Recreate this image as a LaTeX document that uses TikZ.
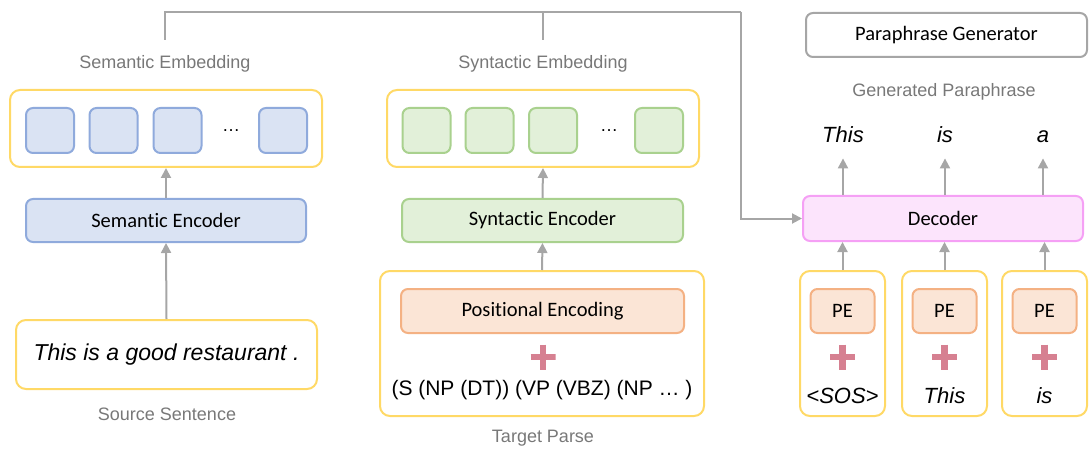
\documentclass[tikz,border=0pt]{standalone}
\usepackage{fontspec}
\setmainfont{Liberation Sans}
\newfontfamily\carl[Ligatures=NoCommon]{Carlito}
\usetikzlibrary{arrows.meta}

\definecolor{yel}{RGB}{255,217,102}
\definecolor{bluefill}{RGB}{218,227,243}
\definecolor{blueline}{RGB}{143,170,220}
\definecolor{greenfill}{RGB}{226,240,217}
\definecolor{greenline}{RGB}{169,209,142}
\definecolor{orfill}{RGB}{251,229,214}
\definecolor{orline}{RGB}{244,177,131}
\definecolor{pinkfill}{RGB}{252,228,252}
\definecolor{pinkline}{RGB}{245,160,245}
\definecolor{plusc}{RGB}{214,128,145}
\definecolor{wire}{RGB}{166,166,166}
\definecolor{lab}{RGB}{120,120,120}

\tikzset{
  frame/.style={draw=yel, line width=2pt, rounded corners=10pt, fill=white},
  cellbox/.style={line width=2pt, rounded corners=7pt, minimum width=48pt, minimum height=45pt, inner sep=0pt},
  bluecell/.style={cellbox, draw=blueline, fill=bluefill},
  greencell/.style={cellbox, draw=greenline, fill=greenfill},
  module/.style={line width=2pt, rounded corners=7pt, inner sep=0pt,
    font=\carl\fontsize{20.5}{24}\selectfont},
  pebox/.style={module, draw=orline, fill=orfill},
  caption/.style={text=lab, inner sep=0pt, font=\fontsize{18}{22}\selectfont},
  word/.style={inner sep=0pt, font=\itshape\fontsize{22}{26}\selectfont},
  wirearrow/.style={draw=wire, line width=2pt, -{Triangle[length=10pt,width=10pt]}},
  wireline/.style={draw=wire, line width=2pt},
  plusmark/.style={inner sep=0pt, minimum size=25pt,
    path picture={\draw[plusc, line width=6.5pt]
      (path picture bounding box.west) -- (path picture bounding box.east)
      (path picture bounding box.north) -- (path picture bounding box.south);}},
}

\begin{document}
\begin{tikzpicture}[x=1pt,y=-1pt]
\useasboundingbox (0,0) rectangle (1089,449);

% ---------- semantic branch ----------
\node[caption] (semlab) at (165,64) {Semantic Embedding};
\node[frame, minimum width=312pt, minimum height=77pt] (sememb) at (166,128.5) {};
\node[bluecell] (b1) at (50,130.5) {};
\node[bluecell] (b2) at (113.5,130.5) {};
\node[bluecell] (b3) at (177.5,130.5) {};
\node[inner sep=0pt, font=\fontsize{18}{20}\selectfont] (bdots) at (231,131) {\dots};
\node[bluecell] (b4) at (283,130.5) {};
\node[module, draw=blueline, fill=bluefill, minimum width=280pt, minimum height=43pt] (semenc) at (166,220.5) {Semantic Encoder};
\node[frame, minimum width=301pt, minimum height=69pt, inner sep=0pt, font=\itshape\fontsize{23}{26}\selectfont] (src) at (166.5,354.5) {This is a good restaurant .};
\node[caption] (srclab) at (167,414) {Source Sentence};

\draw[wirearrow] (semenc.north) -- (sememb.south);
\draw[wirearrow] (src.north) -- (semenc.south);

% ---------- syntactic branch ----------
\node[caption] (synlab) at (543,64) {Syntactic Embedding};
\node[frame, minimum width=312pt, minimum height=77pt] (synemb) at (543,128.5) {};
\node[greencell] (g1) at (426.5,130.5) {};
\node[greencell] (g2) at (489.5,130.5) {};
\node[greencell] (g3) at (553,130.5) {};
\node[inner sep=0pt, font=\fontsize{18}{20}\selectfont] (gdots) at (609,131) {\dots};
\node[greencell] (g4) at (659,130.5) {};
\node[module, draw=greenline, fill=greenfill, minimum width=281pt, minimum height=43pt] (synenc) at (542.5,220.5) {Syntactic Encoder};
\node[frame, minimum width=324pt, minimum height=145pt] (tgt) at (542,343.5) {};
\node[pebox, minimum width=283pt, minimum height=44pt] (posenc) at (542.5,311) {Positional Encoding};
\node[plusmark] (tplus) at (543,357) {};
\node[inner sep=0pt, font=\fontsize{21}{24}\selectfont] (parse) at (542,390) {(S (NP (DT)) (VP (VBZ) (NP \dots\ )};
\node[caption] (tgtlab) at (543,438) {Target Parse};

\draw[wirearrow] (synenc.north) -- (synemb.south);
\draw[wirearrow] (tgt.north) -- (synenc.south);

% ---------- paraphrase generator ----------
\node[module, draw=wire, fill=white, minimum width=281pt, minimum height=44pt] (pg) at (946.5,35) {Paraphrase Generator};
\node[caption] (genlab) at (944,92) {Generated Paraphrase};
\node[module, draw=pinkline, fill=pinkfill, minimum width=280pt, minimum height=45pt] (dec) at (943,218.5) {Decoder};

\node[word, anchor=base] (o1) at (843,143) {This};
\node[word, anchor=base] (o2) at (945,143) {is};
\node[word, anchor=base] (o3) at (1043,143) {a};

\foreach \i/\x/\t in {1/842.5/{<SOS>}, 2/944.5/{This}, 3/1044.5/{is}} {
  \node[frame, minimum width=85pt, minimum height=145pt] (in\i) at (\x,343.5) {};
  \node[pebox, minimum width=64pt, minimum height=44pt] (pe\i) at (\x,311) {PE};
  \node[plusmark] (plus\i) at (\x,357) {};
  \node[word] (tok\i) at (\x,396) {\t};
  \draw[wirearrow] (in\i.north) -- (in\i.north |- dec.south);
}

\draw[wirearrow, shorten >=15pt] (o1.south |- dec.north) -- (o1.south);
\draw[wirearrow, shorten >=15pt] (o2.south |- dec.north) -- (o2.south);
\draw[wirearrow, shorten >=15pt] (o3.south |- dec.north) -- (o3.south);

% ---------- embeddings feed the decoder ----------
\coordinate (semtap) at (165,40);
\coordinate (syntap) at (543,40);
\coordinate (bus) at (741,12);
\draw[wireline] (semtap) -- (semtap |- bus) -- (bus);
\draw[wireline] (syntap) -- (syntap |- bus);
\draw[wirearrow] (bus) -- (bus |- dec.west) -- (dec.west);
\end{tikzpicture}
\end{document}
